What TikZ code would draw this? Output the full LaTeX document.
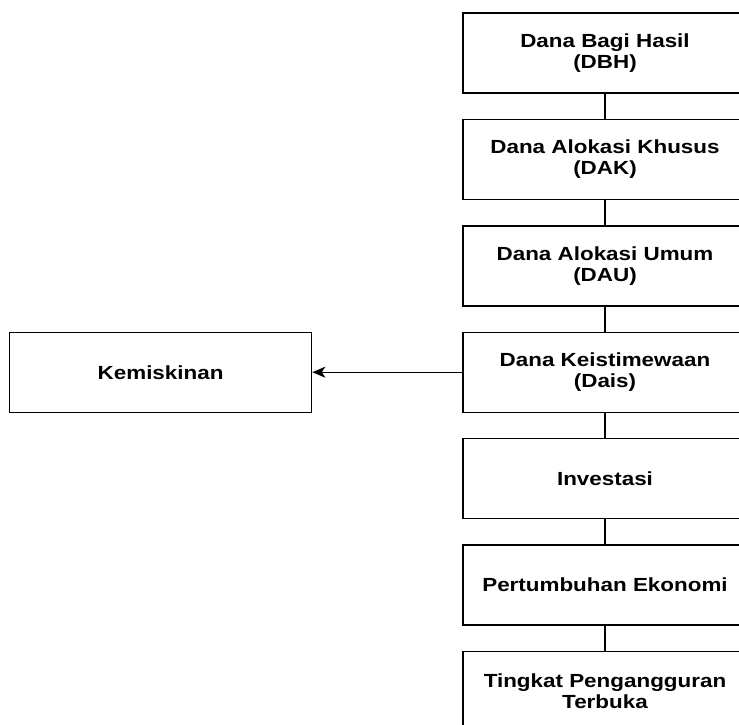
\documentclass[tikz,border=0pt]{standalone}
\usepackage{fontspec}
\setmainfont{Liberation Sans}[FakeStretch=1.18]
\usetikzlibrary{arrows.meta,positioning}

\begin{document}
\begin{tikzpicture}
      [x=1pt, y=1pt,
        >={Stealth[length=13pt,width=11pt,inset=3.5pt]},
        node distance=25pt,
        line/.style={draw, line width=1.4pt, ->},
        link/.style={draw, line width=1.4pt},
        box/.style={
          rectangle,
          draw=black, line width=1.4pt,
          align=center,
          font=\bfseries\fontsize{19}{21}\selectfont,
          minimum width=284pt,
          minimum height=80pt,
          inner sep=0pt,
}]
      \useasboundingbox (0,0) rectangle (739,-724);
      \node[box] (dbh) at (605,-53) {Dana Bagi Hasil\\(DBH)};
      \node[box, below=of dbh] (dak) {Dana Alokasi Khusus\\(DAK)};
      \node[box, below=of dak] (dau) {Dana Alokasi Umum\\(DAU)};
      \node[box, below=of dau] (dais) {Dana Keistimewaan\\(Dais)};
      \node[box, below=of dais] (investasi) {Investasi};
      \node[box, below=of investasi] (pertumbuhan) {Pertumbuhan Ekonomi};
      \node[box, below=of pertumbuhan] (tpt) {Tingkat Pengangguran\\Terbuka};
      \node[box, minimum width=302pt, left=150pt of dais] (kemiskinan) {Kemiskinan};

      \foreach \a/\b in {dbh/dak, dak/dau, dau/dais, dais/investasi,
        investasi/pertumbuhan, pertumbuhan/tpt}
        \draw[link] (\a) -- (\b);
      \draw[line] (dais) -- (kemiskinan);
    \end{tikzpicture}
\end{document}
